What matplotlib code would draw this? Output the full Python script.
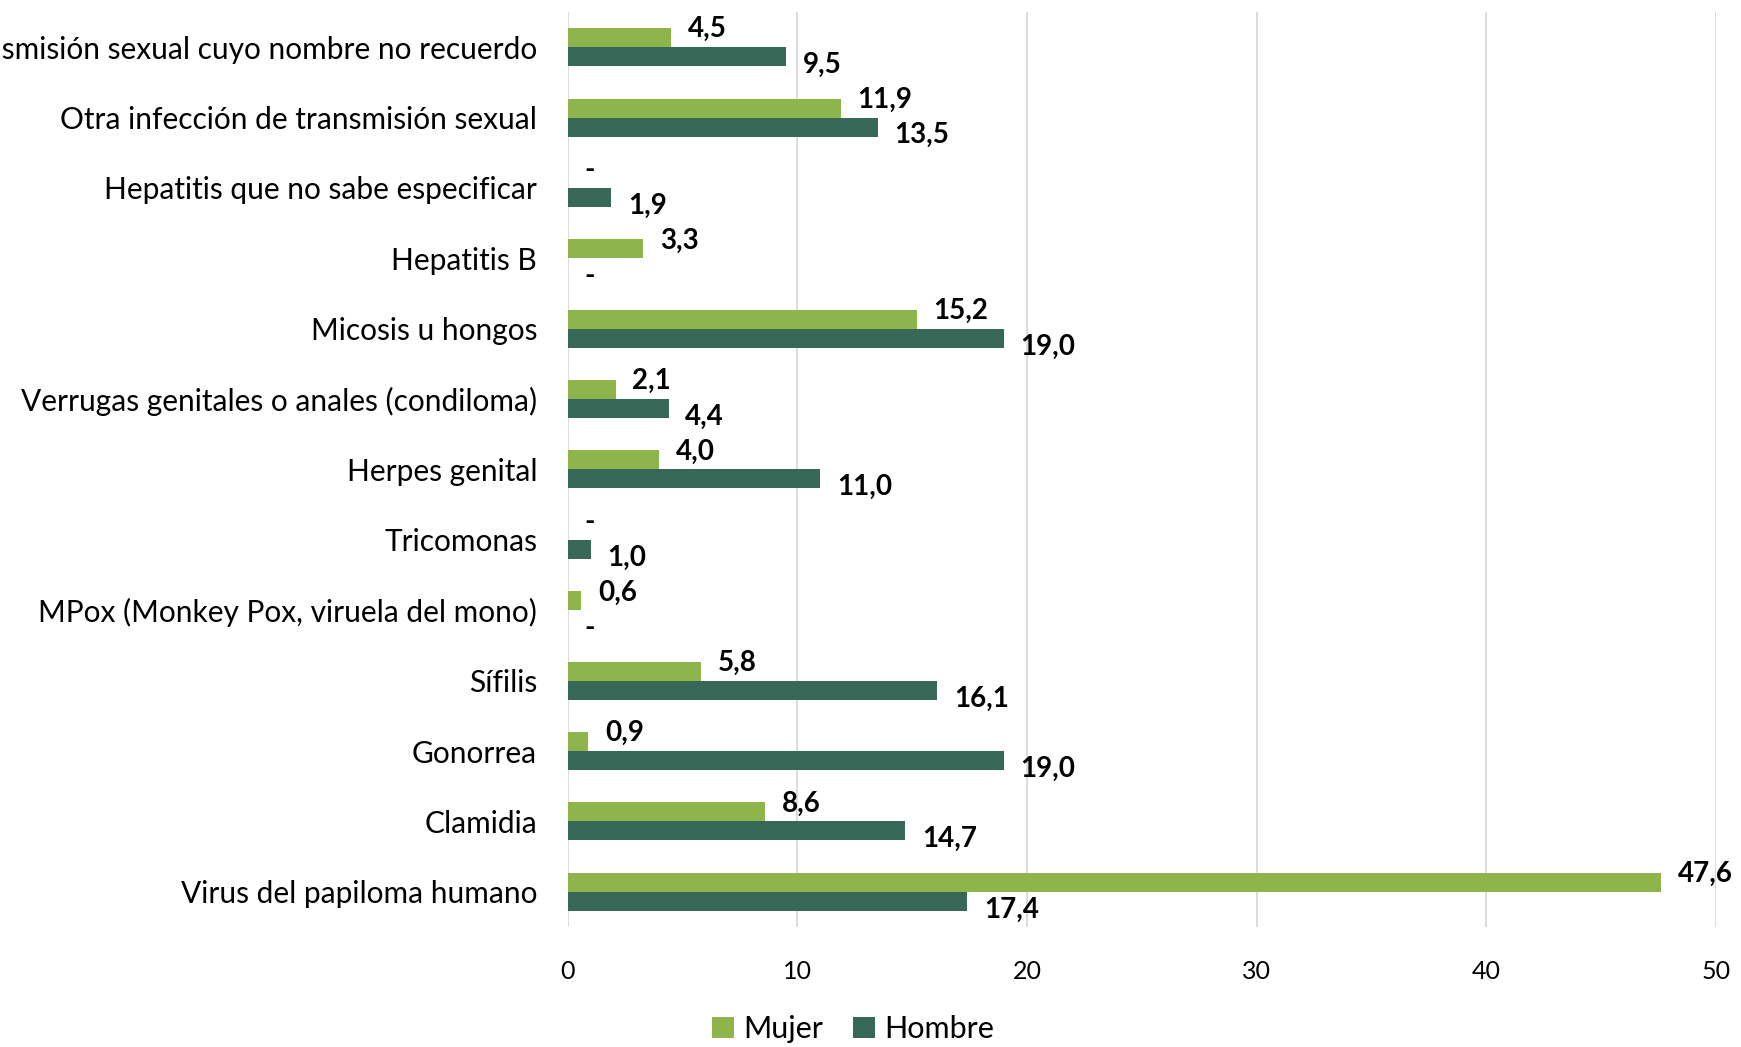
import matplotlib
matplotlib.use("Agg")
import matplotlib.pyplot as plt
import numpy as np

categories = [
    "Virus del papiloma humano",
    "Clamidia",
    "Gonorrea",
    "Sífilis",
    "MPox (Monkey Pox, viruela del mono)",
    "Tricomonas",
    "Herpes genital",
    "Verrugas genitales o anales (condiloma)",
    "Micosis u hongos",
    "Hepatitis B",
    "Hepatitis que no sabe especificar",
    "Otra infección de transmisión sexual",
    "Infección de transmisión sexual cuyo nombre no recuerdo",
]
mujer = [47.6, 8.6, 0.9, 5.8, 0.6, 0.0, 4.0, 2.1, 15.2, 3.3, 0.0, 11.9, 4.5]
hombre = [17.4, 14.7, 19.0, 16.1, 0.0, 1.0, 11.0, 4.4, 19.0, 0.0, 1.9, 13.5, 9.5]
xticks = [0, 10, 20, 30, 40, 50]

c_mujer = "#8db54b"
c_hombre = "#376757"

plt.rcParams["font.family"] = ["Lato", "DejaVu Sans"]

fig = plt.figure(figsize=(17.41, 10.47), dpi=100)
ax = fig.add_axes([0.326, 0.1146, 0.6597, 0.874])

y = np.arange(len(categories))
h = 0.27
bm = ax.barh(y + h / 2, mujer, height=h, color=c_mujer, label="Mujer", zorder=3)
bh = ax.barh(y - h / 2, hombre, height=h, color=c_hombre, label="Hombre", zorder=3)

def fmt(v):
    return "-" if v == 0 else f"{v:.1f}".replace(".", ",")

for yi, v in zip(y, mujer):
    ax.annotate(fmt(v), (v, yi + h / 2), xytext=(12, 6), textcoords="offset points",
                ha="left", va="center", fontsize=20, fontweight="bold", color="black",
                annotation_clip=False)
for yi, v in zip(y, hombre):
    ax.annotate(fmt(v), (v, yi - h / 2), xytext=(12, -6), textcoords="offset points",
                ha="left", va="center", fontsize=20, fontweight="bold", color="black",
                annotation_clip=False)

ax.set_xlim(0, 50)
ax.set_ylim(-0.5, len(categories) - 0.5)
ax.set_xticks(xticks)
ax.set_xticklabels([str(t) for t in xticks])
ax.set_yticks(y)
ax.set_yticklabels(categories)
ax.tick_params(axis="y", length=0, pad=22, labelsize=21.5, colors="black")
ax.tick_params(axis="x", length=0, pad=24, labelsize=18, colors="black")
ax.xaxis.grid(True, color="#d9d9d9", linewidth=1.3, zorder=0)
for s in ax.spines.values():
    s.set_visible(False)

fig.legend(handles=[bm, bh], labels=["Mujer", "Hombre"], loc="center",
           bbox_to_anchor=(0.49, 0.017), ncol=2, frameon=False, fontsize=22,
           handlelength=0.7, handleheight=0.7, handletextpad=0.3, columnspacing=1.0)

fig.savefig("out.png", dpi=100)
